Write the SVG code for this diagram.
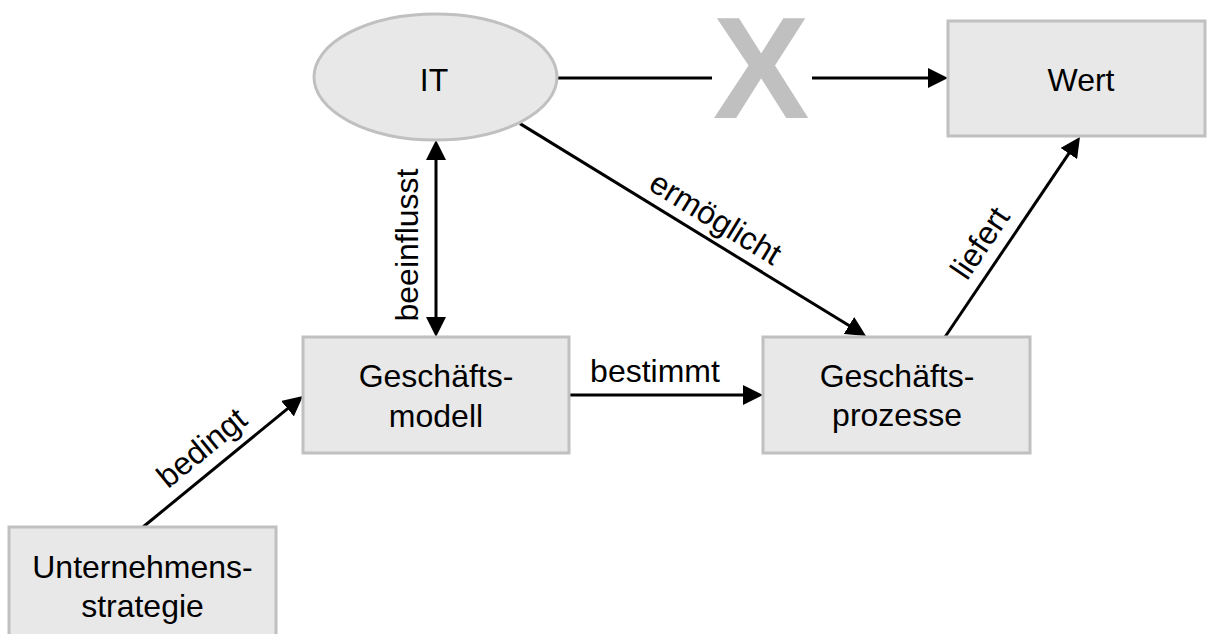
<svg xmlns="http://www.w3.org/2000/svg" width="1208" height="634" viewBox="0 0 1208 634">
<style>
.node{fill:#e8e8e8;stroke:#c0c0c0;stroke-width:3}
.t{font-family:"Liberation Sans",Arial,Helvetica,sans-serif;font-size:32px;fill:#000;text-anchor:middle}
.c{stroke:#000;stroke-width:3;fill:none}
.a{marker-end:url(#ah)}
.x{font-family:"Liberation Sans",Arial,Helvetica,sans-serif;font-size:145px;font-weight:bold;fill:#c0c0c0;text-anchor:middle}
</style>
<defs>
<marker id="ah" markerUnits="userSpaceOnUse" markerWidth="20" markerHeight="20" viewBox="0 0 20 20" refX="12" refY="10" orient="auto-start-reverse">
<path d="M0,0 L20,10 L0,20 z" fill="#000"/>
</marker>
</defs>
<rect width="1208" height="634" fill="#fff"/>
<g id="connectors">
<line class="c" x1="557" y1="78" x2="712" y2="78"/>
<text class="x" x="761" y="118">X</text>
<line class="c a" x1="812" y1="78" x2="940" y2="78"/>
<line class="c" x1="436" y1="148" x2="436" y2="329" marker-start="url(#ah)" marker-end="url(#ah)"/>
<line class="c a" x1="520" y1="123.6" x2="859.2" y2="331.8"/>
<line class="c a" x1="569" y1="395" x2="755" y2="395"/>
<line class="c a" x1="945" y1="337" x2="1075.5" y2="143.6"/>
<line class="c a" x1="143" y1="527" x2="296.8" y2="401.1"/>
<text class="t" transform="translate(418,245) rotate(-90)">beeinflusst</text>
<text class="t" transform="translate(710,227.4) rotate(31.55)">ermöglicht</text>
<text class="t" x="655" y="382">bestimmt</text>
<text class="t" transform="translate(989,249) rotate(-55.98)">liefert</text>
<text class="t" transform="translate(208.5,456) rotate(-39.3)">bedingt</text>
</g>
<g id="node-it">
<ellipse class="node" cx="435.5" cy="77" rx="121.5" ry="63"/>
<text class="t" x="434" y="91">IT</text>
</g>
<g id="node-wert">
<rect class="node" x="948" y="21" width="257" height="115"/>
<text class="t" x="1081" y="91">Wert</text>
</g>
<g id="node-geschaeftsmodell">
<rect class="node" x="303" y="337" width="266" height="116"/>
<text class="t" x="436" y="387">Geschäfts-</text>
<text class="t" x="436" y="427">modell</text>
</g>
<g id="node-geschaeftsprozesse">
<rect class="node" x="763" y="337" width="267" height="116"/>
<text class="t" x="897" y="387">Geschäfts-</text>
<text class="t" x="897" y="426">prozesse</text>
</g>
<g id="node-unternehmensstrategie">
<rect class="node" x="9" y="527" width="267" height="120"/>
<text class="t" x="142.5" y="578">Unternehmens-</text>
<text class="t" x="142.5" y="617">strategie</text>
</g>
</svg>
